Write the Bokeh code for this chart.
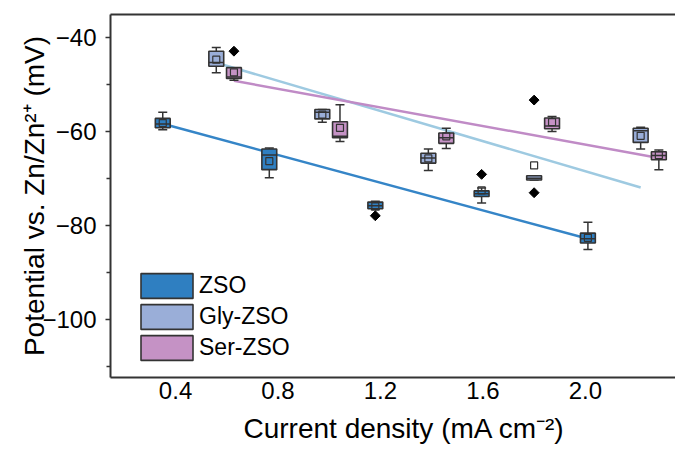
import math
from bokeh.plotting import figure
from bokeh.models import LinearAxis, FixedTicker, Legend, LegendItem, Range1d, ColumnDataSource, Title
from bokeh.embed import file_html
from bokeh.resources import INLINE

# ---- data ----
series_names = ["ZSO", "Gly-ZSO", "Ser-ZSO"]
series_colors = ["#2f7fc1", "#9aaed8", "#c592c5"]
fit_colors = ["#3585c7", "#9ecae1", "#c08bc6"]

zso_x = [0.35, 0.766, 1.18, 1.595, 2.01]
zso_wlo = [-59.6, -69.8, -76.6, -75.2, -85.1]
zso_q1 = [-59.2, -68.1, -76.4, -73.8, -83.7]
zso_med = [-58.4, -65.0, -75.8, -73.2, -82.8]
zso_q3 = [-57.2, -63.7, -75.0, -72.6, -81.6]
zso_whi = [-55.9, -63.5, -74.8, -72.0, -79.3]
zso_mean = [-58.2, -66.3, -75.9, -72.5, -82.6]
zso_out_x = [1.18, 1.595]
zso_out_y = [-77.9, -69.1]

gly_x = [0.559, 0.973, 1.387, 1.80, 2.216]
gly_wlo = [-47.5, -58.0, -68.3, -70.3, -63.7]
gly_q1 = [-46.1, -57.3, -66.7, -70.3, -62.3]
gly_med = [-45.3, -55.9, -65.6, -69.9, -59.8]
gly_q3 = [-42.9, -55.3, -64.6, -69.4, -59.3]
gly_whi = [-42.1, -55.3, -63.7, -69.4, -59.1]
gly_mean = [-44.7, -56.4, -65.7, -67.2, -60.9]
gly_out_x = [1.80, 1.80]
gly_out_y = [-53.3, -73.0]

ser_x = [0.628, 1.042, 1.457, 1.87, 2.287]
ser_wlo = [-49.1, -62.1, -63.6, -60.0, -68.1]
ser_q1 = [-48.7, -61.3, -62.5, -59.4, -66.0]
ser_med = [-48.4, -61.0, -61.3, -58.8, -65.1]
ser_q3 = [-46.4, -57.9, -60.3, -57.1, -64.3]
ser_whi = [-46.4, -54.3, -59.3, -56.8, -63.9]
ser_mean = [-47.4, -59.2, -61.0, -58.0, -65.0]
ser_out_x = [0.628]
ser_out_y = [-42.9]

# linear fit lines (end points)
zso_fit_x = [0.35, 2.01]
zso_fit_y = [-58.35, -82.8]
gly_fit_x = [0.559, 2.216]
gly_fit_y = [-45.35, -71.9]
ser_fit_x = [0.628, 2.287]
ser_fit_y = [-49.2, -65.6]

x_ticks = [0.4, 0.8, 1.2, 1.6, 2.0]
x_tick_labels = ["0.4", "0.8", "1.2", "1.6", "2.0"]
y_ticks = [-40, -60, -80, -100]
y_tick_labels = ["\u221240", "\u221260", "\u221280", "\u2212100"]
y_minor_ticks = [-50, -70, -90, -110]

FONT = "Liberation Sans"
AX = "#333333"

p = figure(frame_width=565, frame_height=363,
           x_range=Range1d(0.146, 2.352), y_range=Range1d(-112.3, -35.1),
           output_backend="svg", toolbar_location=None,
           min_border_left=110, min_border_top=14, min_border_bottom=75, min_border_right=0)
p.grid.visible = False
p.outline_line_color = None
p.background_fill_color = "white"
p.border_fill_color = "white"

series = [
    (zso_x, zso_wlo, zso_q1, zso_med, zso_q3, zso_whi, zso_mean, zso_out_x, zso_out_y, zso_fit_x, zso_fit_y),
    (gly_x, gly_wlo, gly_q1, gly_med, gly_q3, gly_whi, gly_mean, gly_out_x, gly_out_y, gly_fit_x, gly_fit_y),
    (ser_x, ser_wlo, ser_q1, ser_med, ser_q3, ser_whi, ser_mean, ser_out_x, ser_out_y, ser_fit_x, ser_fit_y),
]

# fit lines underneath
for i, s in enumerate(series):
    p.line(s[9], s[10], line_color=fit_colors[i], line_width=2.5)

box_w = 0.058
legend_items = []
for i, s in enumerate(series):
    x, wlo, q1, med, q3, whi, mean, ox, oy, _, _ = s
    src = ColumnDataSource(dict(x=x, wlo=wlo, q1=q1, med=med, q3=q3, whi=whi, mean=mean))
    p.segment(x0="x", y0="q3", x1="x", y1="whi", source=src, line_color=AX, line_width=1.5)
    p.segment(x0="x", y0="q1", x1="x", y1="wlo", source=src, line_color=AX, line_width=1.5)
    p.scatter(x="x", y="whi", source=src, marker="dash", size=9, line_color=AX, line_width=1.5)
    p.scatter(x="x", y="wlo", source=src, marker="dash", size=9, line_color=AX, line_width=1.5)
    r = p.vbar(x="x", width=box_w, top="q3", bottom="q1", source=src,
               fill_color=series_colors[i], line_color=AX, line_width=1.6)
    p.scatter(x="x", y="med", source=src, marker="dash", size=15, line_color=AX, line_width=1.5)
    p.scatter(x="x", y="mean", source=src, marker="square", size=7,
              fill_color="white", fill_alpha=0.0, line_color=AX, line_width=1.2)
    p.scatter(ox, oy, marker="square", angle=math.pi / 4, size=7,
              fill_color="black", line_color="black")
    legend_items.append(LegendItem(label=series_names[i], renderers=[r]))

legend = Legend(items=legend_items, location=(24, 14), padding=0, margin=0, spacing=-2,
                glyph_width=65, glyph_height=31, label_height=25, label_standoff=0,
                label_text_font=FONT, label_text_font_size="23px", label_text_color="black",
                border_line_color=None, background_fill_alpha=0.0)
p.add_layout(legend, "center")

# axes
xa = p.xaxis[0]
xa.ticker = FixedTicker(ticks=x_ticks)
xa.major_label_overrides = {t: l for t, l in zip(x_ticks, x_tick_labels)}
xa.major_tick_out = 0
xa.major_tick_in = 0
xa.minor_tick_out = 0
xa.minor_tick_in = 0
ya = p.yaxis[0]
ya.ticker = FixedTicker(ticks=y_ticks, minor_ticks=y_minor_ticks)
ya.major_label_overrides = {t: l for t, l in zip(y_ticks, y_tick_labels)}
ya.axis_label = "Potential vs. Zn/Zn\u00b2\u207a (mV)"
ya.major_tick_out = 5
ya.major_tick_in = 0
ya.minor_tick_out = 4
ya.minor_tick_in = 0
for ax in (xa, ya):
    ax.axis_line_color = AX
    ax.axis_line_width = 2
    ax.major_tick_line_color = AX
    ax.major_tick_line_width = 1.5
    ax.minor_tick_line_color = AX
    ax.minor_tick_line_width = 1.5
    ax.major_label_text_font = FONT
    ax.major_label_text_font_size = "24px"
    ax.major_label_text_color = "black"
    ax.axis_label_text_font = FONT
    ax.axis_label_text_font_style = "normal"
    ax.axis_label_text_color = "black"
ya.axis_label_text_font_size = "28px"
xa.major_label_standoff = 4
ya.major_label_standoff = 9
ya.axis_label_standoff = -11

# x-axis title, shifted right as in the reference
xt = Title(text="Current density (mA cm\u207b\u00b2)", align="left", offset=133,
           text_font=FONT, text_font_size="28px", text_font_style="normal",
           text_color="black", standoff=19, vertical_align="bottom")
p.add_layout(xt, "below")

top = LinearAxis(ticker=FixedTicker(ticks=[]), major_label_text_font_size="0px",
                 major_tick_out=0, major_tick_in=0, minor_tick_out=0, minor_tick_in=0,
                 major_label_standoff=0, axis_line_color=AX, axis_line_width=2)
p.add_layout(top, "above")

open("out.html", "w").write(file_html(p, INLINE))
